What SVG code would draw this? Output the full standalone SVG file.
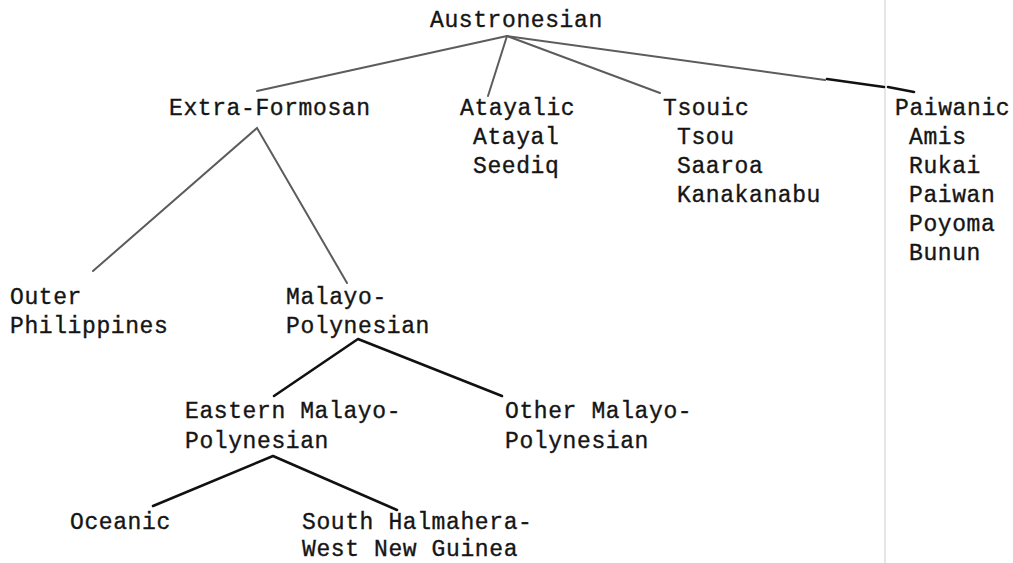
<svg xmlns="http://www.w3.org/2000/svg" width="1013" height="563" viewBox="0 0 1013 563">
  <style>
    text { font-family: "Liberation Mono", "Courier New", monospace; font-size: 23px; letter-spacing: 0.6px; fill: #151515; stroke: #151515; stroke-width: 0.35px; }
    .upper { stroke: #5c5c5c; stroke-width: 2; fill: none; stroke-linecap: round; }
    .lower { stroke: #111; stroke-width: 2.6; fill: none; stroke-linecap: round; stroke-linejoin: round; }
    .edge { stroke: #e6e6e6; stroke-width: 2; }
  </style>
  <rect width="1013" height="563" fill="#ffffff"/>
  <!-- faint page edge -->
  <line class="edge" x1="885" y1="0" x2="885" y2="563"/>

  <g id="connectors">
    <line class="upper" x1="507" y1="36" x2="257" y2="91"/>
    <line class="upper" x1="507" y1="36" x2="488" y2="96"/>
    <line class="upper" x1="507" y1="36" x2="660" y2="93" stroke-width="2.6"/>
    <line class="upper" x1="507" y1="36" x2="825" y2="80"/>
    <line class="lower" x1="827" y1="79" x2="884" y2="87"/>
    <line class="lower" x1="888" y1="87" x2="914" y2="92"/>
    <polyline class="upper" points="93,271 257,128 347,283"/>
    <polyline class="lower" points="274,396 358,339 502,396"/>
    <polyline class="lower" points="153,506 273,456 397,510"/>
  </g>

  <g id="austronesian"><text x="430" y="27">Austronesian</text></g>
  <g id="extra-formosan"><text x="169" y="115">Extra-Formosan</text></g>
  <g id="atayalic">
    <text x="460" y="115">Atayalic</text>
    <text x="473" y="144">Atayal</text>
    <text x="473" y="173">Seediq</text>
  </g>
  <g id="tsouic">
    <text x="663" y="115">Tsouic</text>
    <text x="677" y="144">Tsou</text>
    <text x="677" y="173">Saaroa</text>
    <text x="677" y="202">Kanakanabu</text>
  </g>
  <g id="paiwanic">
    <text x="895" y="115">Paiwanic</text>
    <text x="909" y="144">Amis</text>
    <text x="909" y="173">Rukai</text>
    <text x="909" y="202">Paiwan</text>
    <text x="909" y="231">Poyoma</text>
    <text x="909" y="260">Bunun</text>
  </g>
  <g id="outer-philippines">
    <text x="10" y="304">Outer</text>
    <text x="10" y="333">Philippines</text>
  </g>
  <g id="malayo-polynesian">
    <text x="286" y="304">Malayo-</text>
    <text x="286" y="333">Polynesian</text>
  </g>
  <g id="eastern-malayo-polynesian">
    <text x="185" y="418">Eastern Malayo-</text>
    <text x="185" y="448">Polynesian</text>
  </g>
  <g id="other-malayo-polynesian">
    <text x="505" y="418">Other Malayo-</text>
    <text x="505" y="448">Polynesian</text>
  </g>
  <g id="oceanic"><text x="70" y="529">Oceanic</text></g>
  <g id="south-halmahera-west-new-guinea">
    <text x="302" y="529">South Halmahera-</text>
    <text x="302" y="556">West New Guinea</text>
  </g>
</svg>
